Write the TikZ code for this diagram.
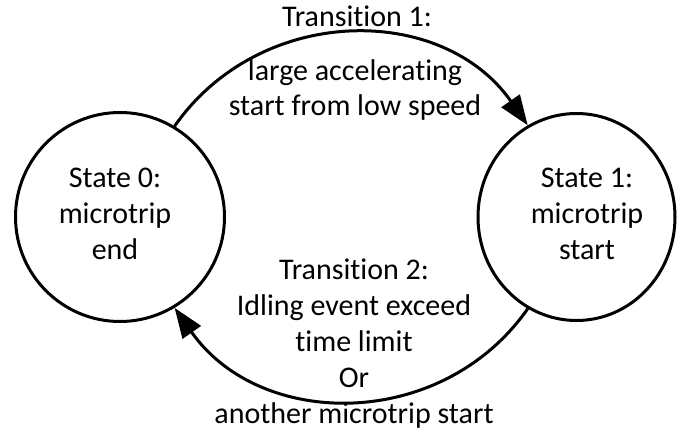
\documentclass[tikz,border=0pt]{standalone}
\usepackage{fontspec}
\setmainfont{Carlito}[Ligatures=NoCommon]
\usetikzlibrary{arrows.meta,shapes.geometric}
\begin{document}
\begin{tikzpicture}[x=1pt,y=1pt,
  state/.style={draw, line width=3pt, inner sep=0pt},
  lbl/.style={align=center, font=\fontsize{30}{36}\selectfont, inner sep=0pt, anchor=base},
  trans/.style={line width=3pt, -{Triangle[length=30pt,width=22pt]}}]
\useasboundingbox (0,0) rectangle (678,432);

% the two states
\node[state, circle, minimum size=209pt] (s0) at (120,215) {};
\node[state, ellipse, minimum width=197pt, minimum height=207pt] (s1) at (576.5,215) {};
% (base of a multi-line label = baseline of its last line)
\node[lbl] (s0t) at (115,173) {State 0:\\microtrip\\end};
\node[lbl] (s1t) at (587,173) {State 1:\\microtrip\\start};

% transitions between them
\draw[trans] (s0.59) to[out=55, in=125, looseness=1.08] (s1.118);
\draw[trans] (s1.-118.5) to[out=-125, in=-55, looseness=1.08] (s0.-59);

% transition labels
\node[lbl] (t1) at (357,405) {Transition 1:};
\node[lbl] (t1d) at (355,316) {large accelerating\\start from low speed};
\node[lbl] (t2) at (354,9) {Transition 2:\\Idling event exceed\\time limit\\Or\\another microtrip start};
\end{tikzpicture}
\end{document}
